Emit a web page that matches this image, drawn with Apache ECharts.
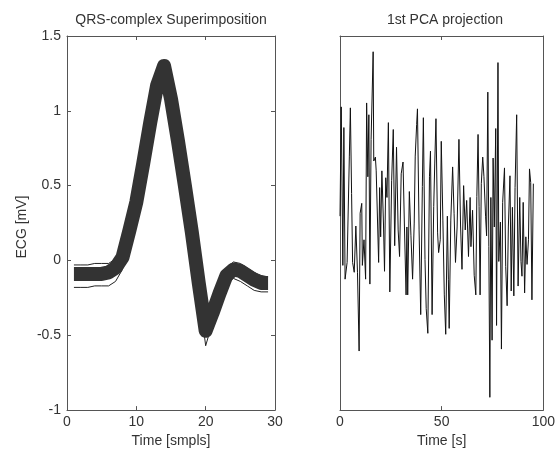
<!DOCTYPE html>
<html>
<head>
<meta charset="utf-8">
<script src="https://cdn.jsdelivr.net/npm/echarts@6/dist/echarts.min.js"></script>
<style>html,body{margin:0;padding:0;background:#fff}#c{width:558px;height:453px}</style>
</head>
<body>
<div id="c"></div>
<script>
// Left panel: superimposed QRS complexes (samples 1..29)
var qrsSamples = [1,2,3,4,5,6,7,8,9,10,11,12,13,14,15,16,17,18,19,20,21,22,23,24,25,26,27,28,29];
var qrsMean  = [-0.09,-0.09,-0.09,-0.09,-0.09,-0.08,-0.05,0.02,0.20,0.39,0.65,0.92,1.17,1.30,1.08,0.80,0.50,0.19,-0.15,-0.47,-0.35,-0.22,-0.10,-0.06,-0.07,-0.10,-0.13,-0.15,-0.15];
var qrsUpper = [-0.03,-0.03,-0.03,-0.02,-0.02,-0.02,0.01,0.06,0.22,0.42,0.68,0.95,1.20,1.33,1.12,0.84,0.54,0.22,-0.12,-0.44,-0.30,-0.17,-0.05,-0.01,-0.02,-0.05,-0.08,-0.10,-0.11];
var qrsLower = [-0.18,-0.18,-0.18,-0.17,-0.17,-0.17,-0.14,-0.06,0.14,0.34,0.60,0.88,1.12,1.25,1.04,0.76,0.46,0.15,-0.20,-0.57,-0.41,-0.28,-0.16,-0.12,-0.14,-0.17,-0.20,-0.21,-0.21];

// Right panel: 1st PCA projection over time
var pcaTime = [0.0,0.6,1.4,1.9,2.5,3.5,4.6,5.1,5.7,6.2,7.0,7.8,8.6,9.4,9.9,10.7,11.0,11.8,12.6,13.1,13.7,14.2,14.7,15.3,16.3,16.6,17.4,17.8,19.0,19.5,20.0,20.6,21.4,21.9,22.5,23.1,23.8,24.5,25.4,26.2,26.9,27.8,28.6,29.3,30.1,31.0,31.7,32.5,32.9,33.3,34.1,34.9,35.7,36.5,37.0,37.7,38.1,38.9,39.7,40.5,41.0,41.8,42.4,43.2,44.0,44.5,45.3,46.1,46.6,47.2,48.0,48.5,49.3,49.8,50.6,51.3,52.0,52.8,53.3,53.7,54.5,55.4,56.1,56.8,57.6,58.5,59.3,60.0,60.8,61.6,62.3,63.2,64.0,64.4,65.2,66.0,66.8,67.3,67.9,68.4,68.9,69.5,70.2,70.8,71.6,72.1,72.7,73.2,73.7,74.2,74.8,75.3,75.9,76.6,77.0,77.7,78.1,78.9,79.4,80.0,80.9,81.5,82.2,82.8,83.6,84.2,84.8,85.5,86.1,86.9,87.6,88.4,89.0,89.5,90.1,90.8,91.4,92.0,92.7,93.2,93.8,94.4,95.1];
var pcaValue = [0.07,1.18,-0.43,0.97,-0.57,-0.40,0.68,1.17,0.30,-0.40,-0.50,-0.03,-0.50,-1.30,0.10,0.20,-0.43,-0.17,-0.57,1.22,0.47,1.10,-0.62,0.85,1.74,0.63,0.67,0.53,-0.40,0.36,-0.14,0.53,-0.02,-0.49,0.46,0.26,1.02,-0.70,0.43,0.95,-0.23,0.77,-0.07,-0.34,0.50,0.62,-0.04,-0.73,-0.04,-0.73,0.32,-0.13,-0.57,0.00,0.68,1.00,1.16,-0.07,-0.93,0.37,1.07,-0.37,-0.87,-1.12,0.47,0.73,-0.93,0.17,0.60,1.06,-0.10,-0.30,-0.17,0.83,0.03,-0.73,-1.13,0.07,-0.57,-1.07,0.03,0.57,0.10,-0.40,-0.04,0.85,-0.03,-0.47,0.38,-0.07,0.23,-0.34,0.26,-0.24,0.13,-0.53,-0.73,0.27,0.90,0.17,-0.73,0.40,0.67,0.47,0.07,-0.13,1.33,-0.24,-1.77,0.26,-1.19,0.66,-0.04,0.96,-1.04,1.63,-0.39,0.01,-1.28,0.21,0.56,-0.44,-0.84,-0.04,0.48,-0.69,0.16,-0.74,0.36,1.10,-0.64,0.26,-0.39,-0.54,0.21,-0.71,-0.14,-0.42,-0.17,0.55,0.41,-0.78,0.40];

var leftXTicks = [0, 30, 10];     // min, max, interval
var leftYTicks = [-1, 1.5, 0.5];
var rightXTicks = [0, 100, 50];

var titles = ['QRS-complex Superimposition', '1st PCA projection'];
var xNames = ['Time [smpls]', 'Time [s]'];
var yName = 'ECG [mV]';

function pairs(xs, ys) { return xs.map(function (x, i) { return [x, ys[i]]; }); }

var FONT = 'Liberation Sans';
var txt = { color: '#333', fontFamily: FONT, fontSize: 14 };
var axisLineC = { show: true, onZero: false, lineStyle: { color: '#555', width: 1 } };
var tickIn = { show: true, inside: true, length: 4, lineStyle: { color: '#555' } };

var chart = echarts.init(document.getElementById('c'), null, { renderer: 'canvas' });
chart.setOption({
  animation: false,
  backgroundColor: '#fff',
  grid: [
    { left: 67, top: 36, width: 208, height: 380 },
    { left: 340, top: 36, width: 209, height: 380 }
  ],
  graphic: [
    { type: 'text', x: 171, y: 20, style: { text: titles[0], x: 0, y: 0, align: 'center', verticalAlign: 'middle', fill: '#333', font: '14px "' + FONT + '"' } },
    { type: 'text', x: 445, y: 20, style: { text: titles[1], x: 0, y: 0, align: 'center', verticalAlign: 'middle', fill: '#333', font: '14px "' + FONT + '"' } },
    { type: 'text', x: 22, y: 227, rotation: Math.PI / 2, style: { text: yName, x: 0, y: 0, align: 'center', verticalAlign: 'middle', fill: '#333', font: '14px "' + FONT + '"' } }
  ],
  xAxis: [
    { gridIndex: 0, type: 'value', position: 'bottom', min: leftXTicks[0], max: leftXTicks[1], interval: leftXTicks[2],
      axisLine: axisLineC, axisTick: tickIn, splitLine: { show: false },
      axisLabel: Object.assign({ margin: 5 }, txt),
      name: xNames[0], nameLocation: 'middle', nameGap: 23, nameTextStyle: txt },
    { gridIndex: 0, type: 'value', position: 'top', min: leftXTicks[0], max: leftXTicks[1], interval: leftXTicks[2],
      axisLine: axisLineC, axisTick: tickIn, splitLine: { show: false }, axisLabel: { show: false } },
    { gridIndex: 1, type: 'value', position: 'bottom', min: rightXTicks[0], max: rightXTicks[1], interval: rightXTicks[2],
      axisLine: axisLineC, axisTick: tickIn, splitLine: { show: false },
      axisLabel: Object.assign({ margin: 5 }, txt),
      name: xNames[1], nameLocation: 'middle', nameGap: 23, nameTextStyle: txt },
    { gridIndex: 1, type: 'value', position: 'top', min: rightXTicks[0], max: rightXTicks[1], interval: rightXTicks[2],
      axisLine: axisLineC, axisTick: tickIn, splitLine: { show: false }, axisLabel: { show: false } }
  ],
  yAxis: [
    { gridIndex: 0, type: 'value', position: 'left', min: leftYTicks[0], max: leftYTicks[1], interval: leftYTicks[2],
      axisLine: axisLineC, axisTick: tickIn, splitLine: { show: false },
      axisLabel: Object.assign({ margin: 6 }, txt) },
    { gridIndex: 0, type: 'value', position: 'right', min: leftYTicks[0], max: leftYTicks[1], interval: leftYTicks[2],
      axisLine: axisLineC, axisTick: tickIn, splitLine: { show: false }, axisLabel: { show: false } },
    { gridIndex: 1, type: 'value', position: 'left', min: -1.9, max: 1.9,
      axisLine: axisLineC, axisTick: { show: false }, splitLine: { show: false }, axisLabel: { show: false } },
    { gridIndex: 1, type: 'value', position: 'right', min: -1.9, max: 1.9,
      axisLine: axisLineC, axisTick: { show: false }, splitLine: { show: false }, axisLabel: { show: false } }
  ],
  series: [
    { type: 'line', xAxisIndex: 0, yAxisIndex: 0, data: pairs(qrsSamples, qrsUpper), symbol: 'none',
      lineStyle: { color: '#222', width: 1 }, z: 1 },
    { type: 'line', xAxisIndex: 0, yAxisIndex: 0, data: pairs(qrsSamples, qrsLower), symbol: 'none',
      lineStyle: { color: '#222', width: 1 }, z: 1 },
    { type: 'line', xAxisIndex: 0, yAxisIndex: 0, data: pairs(qrsSamples, qrsMean), symbol: 'none',
      lineStyle: { color: '#333', width: 14, join: 'round', cap: 'butt' }, z: 2 },
    { type: 'line', xAxisIndex: 2, yAxisIndex: 2, data: pairs(pcaTime, pcaValue), symbol: 'none',
      lineStyle: { color: '#111', width: 1 }, z: 2 }
  ]
});
</script>
</body>
</html>
